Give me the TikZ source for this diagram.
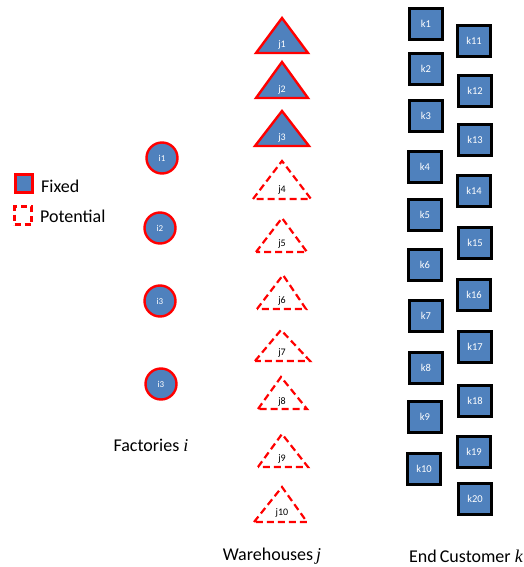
\documentclass[tikz,border=0pt]{standalone}
\usepackage{fontspec}
\setmainfont{Carlito}
\newfontfamily\serifit{Liberation Serif}
\definecolor{obl}{HTML}{4F81BD}
\definecolor{ored}{HTML}{FF0000}
\begin{document}
\begin{tikzpicture}[x=1pt,y=-1pt,
  fac/.style={circle,draw=ored,fill=obl,line width=2.4pt,minimum size=31pt,inner sep=0pt,text=white,font=\fontsize{9}{10}\selectfont},
  cust/.style={rectangle,draw=black,fill=obl,line width=2.2pt,minimum width=33pt,minimum height=31pt,inner sep=0pt,text=white,font=\fontsize{10.5}{12}\selectfont},
  trifixed/.style={draw=ored,fill=obl,line width=2.4pt,line join=miter},
  tripot/.style={draw=ored,line width=2.2pt,dash pattern=on 7pt off 4pt},
  jlab/.style={inner sep=0pt,font=\fontsize{10}{11}\selectfont},
  big/.style={inner sep=0pt,font=\fontsize{18}{21}\selectfont}
]
\useasboundingbox (0,0) rectangle (524,567);

% legend
\node[rectangle,draw=ored,fill=obl,line width=2.4pt,minimum width=17pt,minimum height=18pt,inner sep=0pt] (lfix) at (24,183.5) {};
\node[big,anchor=west] (tfix) at (41,186) {Fixed};
\node[rectangle,draw=ored,line width=2.4pt,dash pattern=on 6pt off 4pt,minimum width=17pt,minimum height=18pt,inner sep=0pt] (lpot) at (23,215.5) {};
\node[big,anchor=west] (tpot) at (40,216) {Potential};

% factories
\node[fac] (i1) at (162,158) {i1};
\node[fac] (i2) at (160,228) {i2};
\node[fac] (i3) at (160,301) {i3};
\node[fac] (i4) at (161,384) {i3};
\node[big] (fl) at (151,445) {Factories {\serifit\itshape i}};

% warehouses
\draw[trifixed] (256,53) -- (282,18) -- (308,53) -- cycle;
\node[jlab,text=white] (j1) at (282,45) {j1};
\draw[trifixed] (256,98) -- (282,62) -- (308,98) -- cycle;
\node[jlab,text=white] (j2) at (282,90) {j2};
\draw[trifixed] (255,146) -- (282,111) -- (309,146) -- cycle;
\node[jlab,text=white] (j3) at (282,138) {j3};
\draw[tripot] (253,199) -- (282,161) -- (311,199) -- cycle;
\node[jlab] (j4) at (282,190) {j4};
\draw[tripot] (256,252) -- (282,218) -- (307,252) -- cycle;
\node[jlab] (j5) at (282,244) {j5};
\draw[tripot] (257,309) -- (283,275) -- (306,309) -- cycle;
\node[jlab] (j6) at (282,301) {j6};
\draw[tripot] (255,361) -- (281,330) -- (310,361) -- cycle;
\node[jlab] (j7) at (282,353) {j7};
\draw[tripot] (258,409) -- (281,377) -- (307,409) -- cycle;
\node[jlab] (j8) at (282,402) {j8};
\draw[tripot] (258,467) -- (282,434) -- (308,467) -- cycle;
\node[jlab] (j9) at (282,459) {j9};
\draw[tripot] (254,522) -- (282,487) -- (307,522) -- cycle;
\node[jlab] (j10) at (282,513) {j10};
\node[big] (wl) at (272,556) {Warehouses\,{\serifit\itshape j}};

% customers
\node[cust] (k1) at (426,24) {k1};
\node[cust] (k2) at (426,69) {k2};
\node[cust] (k3) at (426,116) {k3};
\node[cust] (k4) at (425,167) {k4};
\node[cust] (k5) at (425,215) {k5};
\node[cust] (k6) at (425,265) {k6};
\node[cust] (k7) at (426,316) {k7};
\node[cust] (k8) at (426,368) {k8};
\node[cust] (k9) at (425,417) {k9};
\node[cust] (k10) at (424,469) {k10};
\node[cust] (k11) at (474,41) {k11};
\node[cust] (k12) at (475,91) {k12};
\node[cust] (k13) at (475,140) {k13};
\node[cust] (k14) at (474,191) {k14};
\node[cust] (k15) at (475,243) {k15};
\node[cust] (k16) at (474,295) {k16};
\node[cust] (k17) at (475,347) {k17};
\node[cust] (k18) at (475,401) {k18};
\node[cust] (k19) at (474,452) {k19};
\node[cust] (k20) at (475,499) {k20};
\node[big] (kl) at (466,556) {End\,Customer {\serifit\itshape k}};
\end{tikzpicture}
\end{document}
